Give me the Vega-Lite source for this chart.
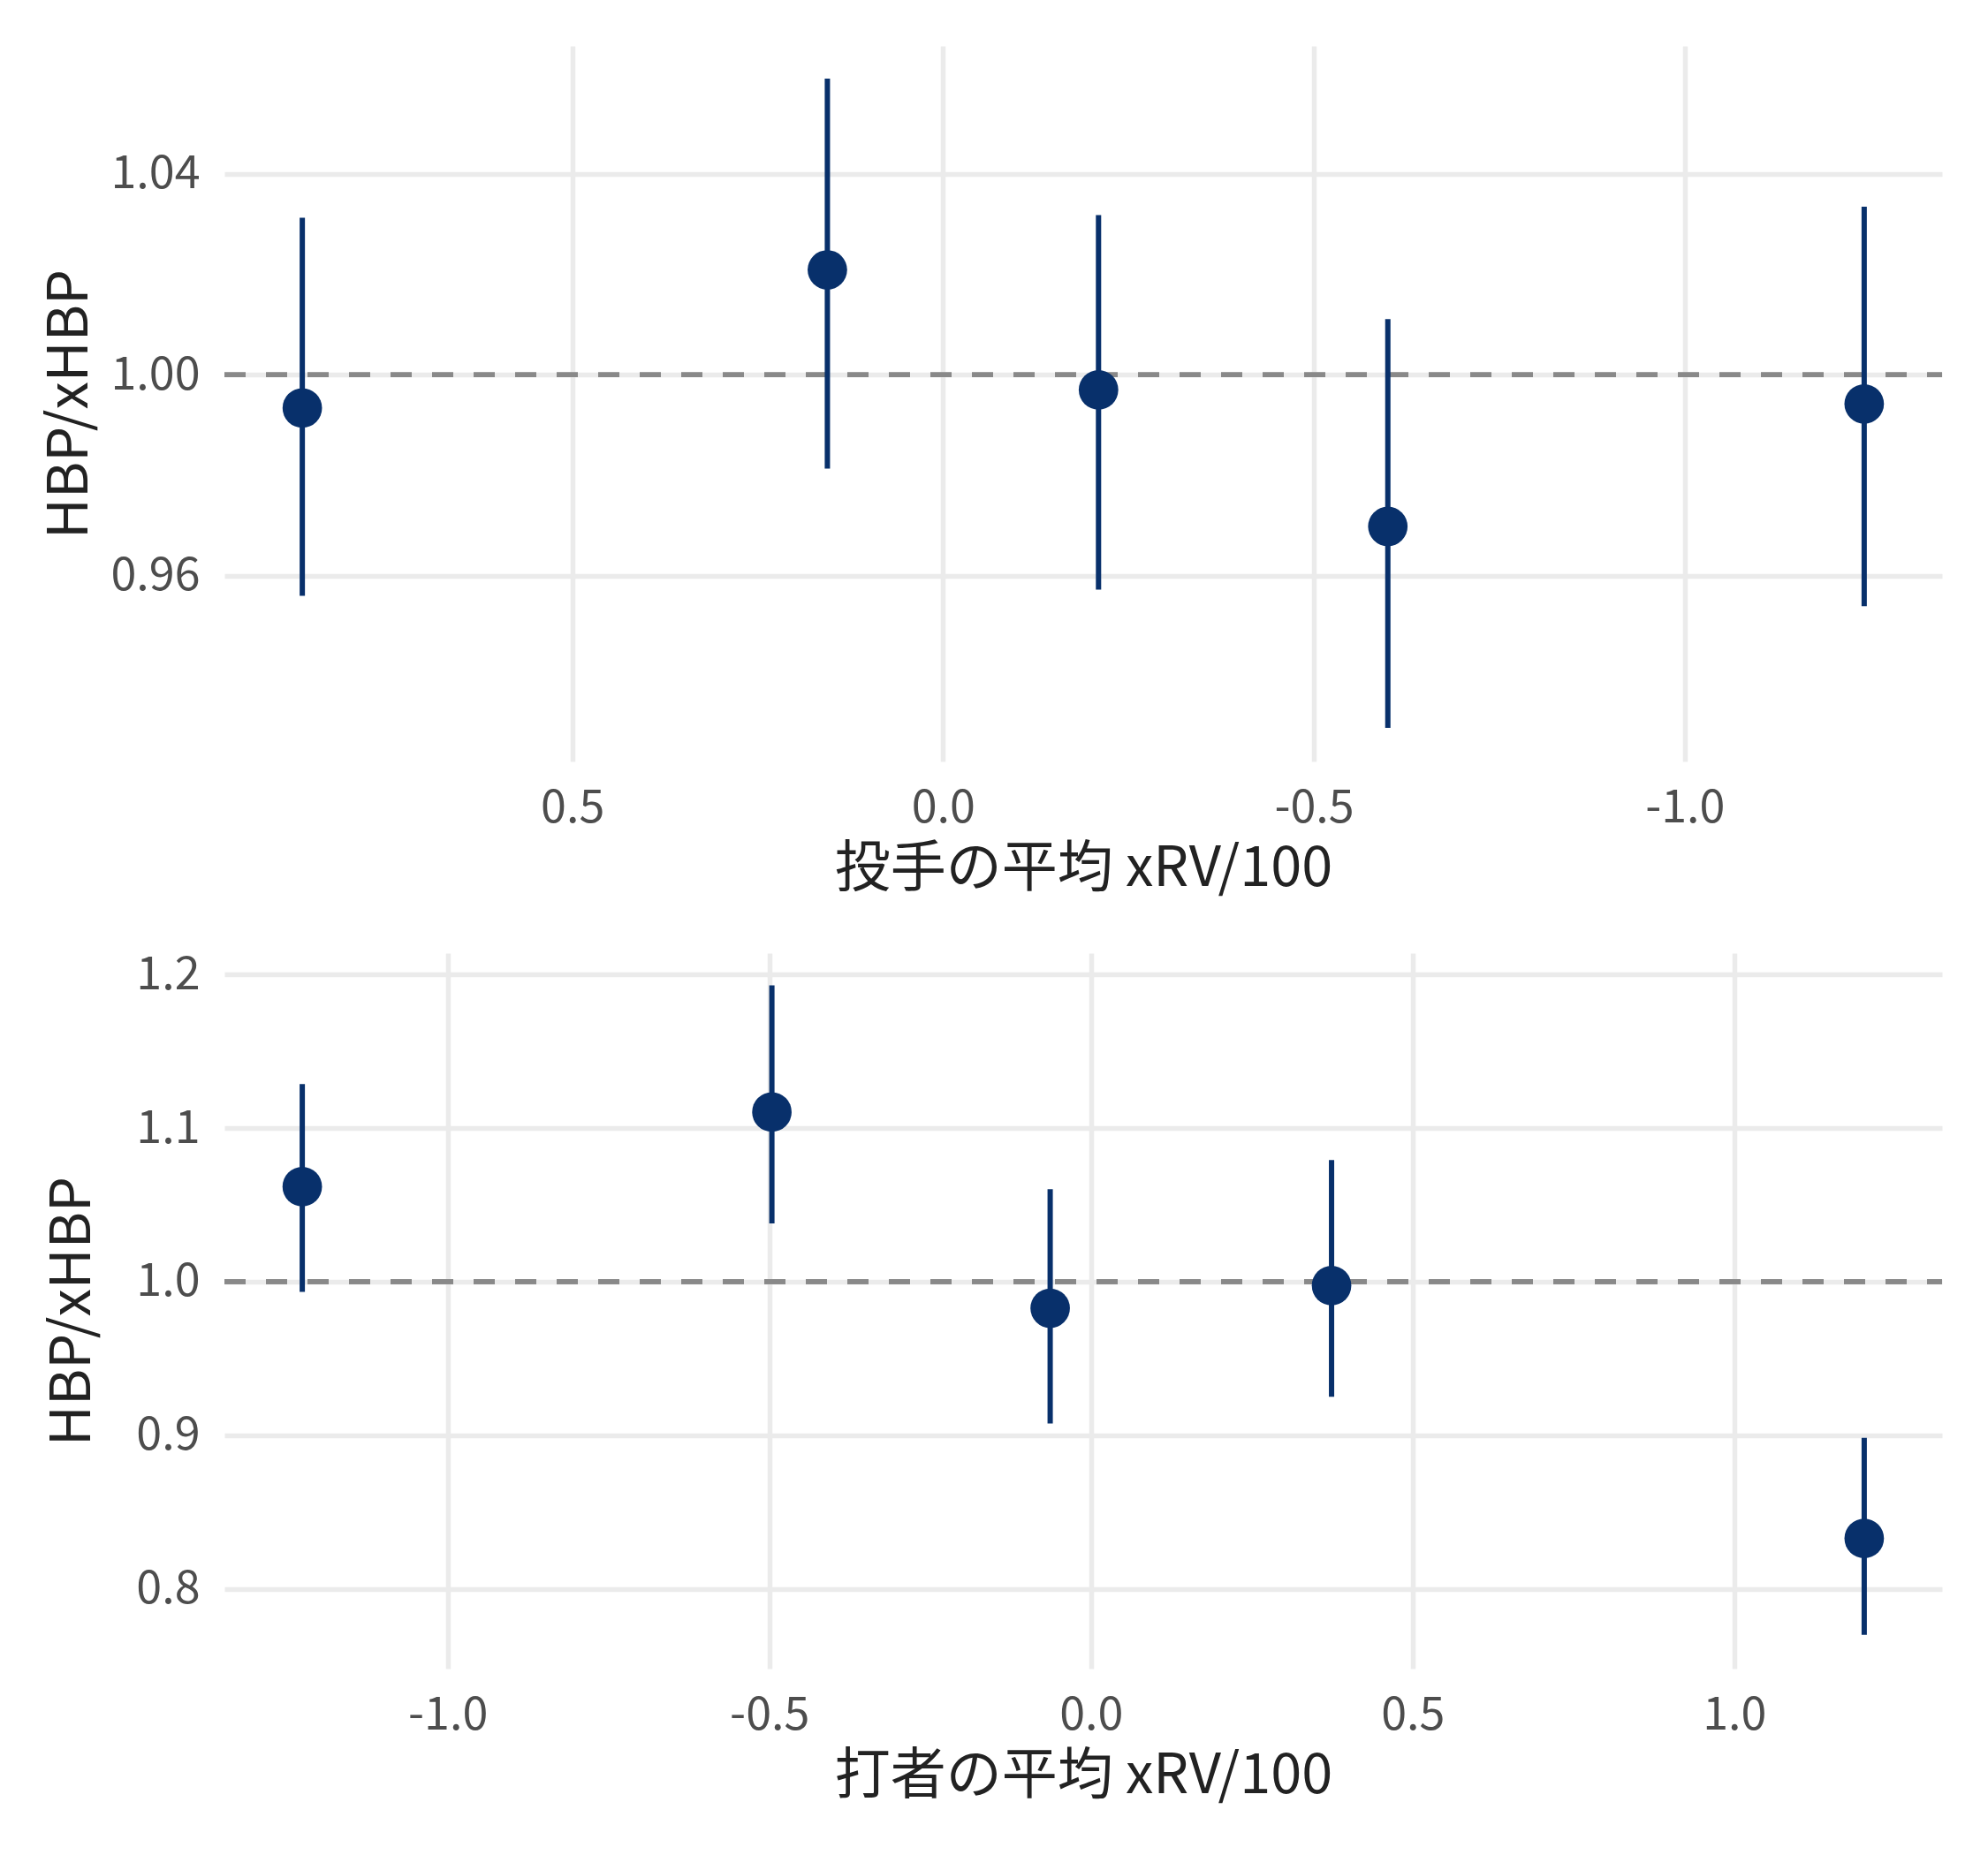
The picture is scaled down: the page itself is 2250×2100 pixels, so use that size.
{
  "$schema": "https://vega.github.io/schema/vega-lite/v6.json",
  "background": "white",
  "padding": {"left": 48, "top": 52, "right": 46, "bottom": 10},
  "spacing": 62,
  "config": {
    "view": {"stroke": null},
    "font": "Noto Sans CJK JP",
    "axis": {
      "domain": false,
      "ticks": false,
      "grid": true,
      "gridColor": "#ebebeb",
      "gridWidth": 5.5,
      "labelFont": "Noto Sans CJK JP",
      "labelFontSize": 52,
      "labelColor": "#4d4d4d",
      "titleFont": "Noto Sans CJK JP",
      "titleFontSize": 63,
      "titleFontWeight": "normal",
      "titleColor": "#222222"
    },
    "axisX": {"labelPadding": 27, "titlePadding": 12},
    "axisY": {"labelPadding": 28}
  },
  "datasets": {
    "pitcher": [
      {"xrv": 0.864, "ratio": 0.9934, "lo": 0.956, "hi": 1.0313},
      {"xrv": 0.156, "ratio": 1.0209, "lo": 0.9813, "hi": 1.059},
      {"xrv": -0.2096, "ratio": 0.997, "lo": 0.9572, "hi": 1.0318},
      {"xrv": -0.5997, "ratio": 0.9698, "lo": 0.9297, "hi": 1.0111},
      {"xrv": -1.242, "ratio": 0.9942, "lo": 0.9539, "hi": 1.0335}
    ],
    "batter": [
      {"xrv": -1.226, "ratio": 1.0619, "lo": 0.9934, "hi": 1.1287},
      {"xrv": -0.496, "ratio": 1.1105, "lo": 1.0379, "hi": 1.193},
      {"xrv": -0.0634, "ratio": 0.9827, "lo": 0.9076, "hi": 1.0602},
      {"xrv": 0.374, "ratio": 0.9975, "lo": 0.925, "hi": 1.0792},
      {"xrv": 1.202, "ratio": 0.8328, "lo": 0.770, "hi": 0.8983}
    ]
  },
  "vconcat": [
    {
      "width": 1944,
      "height": 810,
      "data": {"name": "pitcher"},
      "encoding": {
        "x": {
          "field": "xrv",
          "type": "quantitative",
          "title": "投手の平均 xRV/100",
          "scale": {"domain": [-1.347, 0.969], "reverse": true, "nice": false, "zero": false},
          "axis": {"values": [0.5, 0, -0.5, -1.0], "labelExpr": "replace(format(datum.value, '.1f'), '\u2212', '-')"}
        }
      },
      "layer": [
        {
          "mark": {"type": "rule", "color": "#898989", "strokeWidth": 5, "strokeDash": [24, 23]},
          "encoding": {
            "x": {"value": 0},
            "x2": {"value": "width"},
            "y": {"datum": 1, "type": "quantitative"}
          }
        },
        {
          "mark": {"type": "rule", "color": "#08306b", "strokeWidth": 6},
          "encoding": {
            "y": {
              "field": "lo",
              "type": "quantitative",
              "title": "HBP/xHBP",
              "scale": {"domain": [0.923, 1.0655], "nice": false, "zero": false},
              "axis": {"values": [0.96, 1.0, 1.04], "format": ".2f", "titlePadding": 13}
            },
            "y2": {"field": "hi"}
          }
        },
        {
          "mark": {"type": "circle", "color": "#08306b", "opacity": 1, "size": 2000},
          "encoding": {"y": {"field": "ratio", "type": "quantitative"}}
        }
      ]
    },
    {
      "width": 1944,
      "height": 810,
      "data": {"name": "batter"},
      "encoding": {
        "x": {
          "field": "xrv",
          "type": "quantitative",
          "title": "打者の平均 xRV/100",
          "scale": {"domain": [-1.347, 1.323], "nice": false, "zero": false},
          "axis": {"values": [-1.0, -0.5, 0, 0.5, 1.0], "labelExpr": "replace(format(datum.value, '.1f'), '\u2212', '-')"}
        }
      },
      "layer": [
        {
          "mark": {"type": "rule", "color": "#898989", "strokeWidth": 5, "strokeDash": [24, 23]},
          "encoding": {
            "x": {"value": 0},
            "x2": {"value": "width"},
            "y": {"datum": 1, "type": "quantitative"}
          }
        },
        {
          "mark": {"type": "rule", "color": "#08306b", "strokeWidth": 6},
          "encoding": {
            "y": {
              "field": "lo",
              "type": "quantitative",
              "title": "HBP/xHBP",
              "scale": {"domain": [0.748, 1.214], "nice": false, "zero": false},
              "axis": {"values": [0.8, 0.9, 1.0, 1.1, 1.2], "format": ".1f", "titlePadding": 39}
            },
            "y2": {"field": "hi"}
          }
        },
        {
          "mark": {"type": "circle", "color": "#08306b", "opacity": 1, "size": 2000},
          "encoding": {"y": {"field": "ratio", "type": "quantitative"}}
        }
      ]
    }
  ]
}
